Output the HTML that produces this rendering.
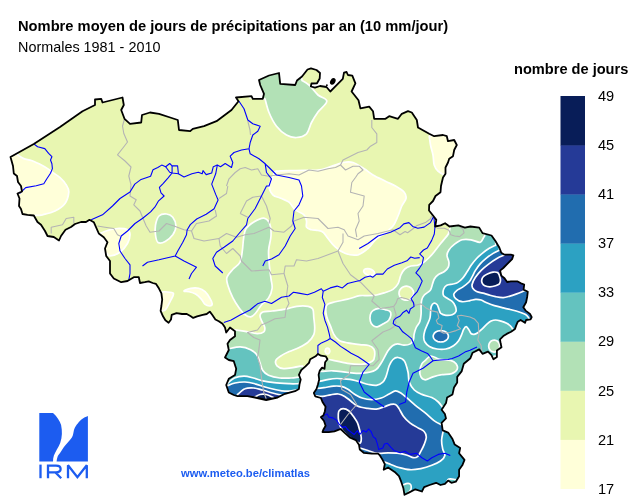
<!DOCTYPE html>
<html><head><meta charset="utf-8"><title>Climatlas</title>
<style>
html,body{margin:0;padding:0;background:#fff;}
body{width:636px;height:504px;position:relative;overflow:hidden;font-family:"Liberation Sans",sans-serif;color:#000;}
.t{position:absolute;white-space:nowrap;line-height:1;will-change:transform;}
.lab{position:absolute;will-change:transform;left:597.5px;font-size:14.6px;line-height:1;white-space:nowrap;}
</style></head><body>
<svg width="636" height="504" viewBox="0 0 636 504" style="position:absolute;left:0;top:0">
<defs><clipPath id="be"><path d="M10.5,157.0 L33.8,144.0 L60.0,127.0 L82.5,111.2 L95.0,105.0 L95.0,99.5 L101.2,98.8 L102.5,102.5 L122.5,97.5 L123.8,105.0 L121.2,110.0 L124.5,118.8 L130.0,123.8 L141.2,122.5 L142.0,115.0 L150.0,112.5 L159.0,113.8 L170.2,117.5 L177.8,120.0 L179.0,130.0 L190.2,131.2 L192.8,128.8 L204.0,126.2 L216.5,121.2 L231.5,110.0 L238.5,101.2 L236.0,97.5 L251.5,96.2 L252.8,98.8 L262.8,98.8 L264.0,93.8 L260.2,85.0 L259.0,80.0 L269.0,75.5 L279.0,73.0 L280.2,83.8 L295.2,85.0 L297.0,80.5 L302.0,76.5 L307.5,69.5 L311.0,68.3 L316.5,70.0 L320.0,73.0 L319.7,78.5 L317.0,83.3 L311.5,83.5 L310.8,86.5 L315.0,87.7 L320.0,86.0 L326.5,87.0 L330.3,91.5 L333.4,88.3 L342.8,78.9 L344.0,72.6 L346.6,72.0 L347.9,75.0 L352.3,75.7 L355.4,83.3 L351.6,91.5 L358.5,100.3 L360.4,108.4 L369.2,106.6 L373.0,111.2 L374.2,118.8 L385.5,118.8 L389.2,116.2 L398.0,118.8 L401.8,113.8 L408.0,111.2 L411.8,112.5 L416.8,120.0 L418.0,127.5 L429.2,133.8 L434.2,136.2 L443.0,135.0 L446.8,136.2 L448.0,141.2 L454.2,140.0 L456.8,145.0 L454.2,150.0 L453.0,156.2 L449.2,158.8 L448.0,162.5 L445.5,167.5 L445.5,173.8 L443.0,177.5 L441.8,182.5 L441.0,186.0 L440.5,192.2 L435.5,196.0 L433.0,201.0 L429.2,204.8 L429.0,210.5 L433.0,215.5 L436.3,219.9 L435.2,226.5 L440.7,225.4 L445.1,223.2 L449.5,226.5 L458.3,225.4 L464.9,227.6 L470.4,226.5 L479.2,227.6 L482.5,233.1 L491.5,235.5 L495.6,241.3 L499.4,247.7 L501.3,252.8 L504.5,254.7 L510.9,254.7 L513.4,255.3 L512.1,259.1 L509.6,261.7 L507.1,264.2 L503.3,268.0 L500.1,270.6 L501.3,275.6 L504.5,278.2 L507.1,282.0 L510.9,281.3 L517.2,281.3 L521.0,283.3 L524.2,284.5 L523.6,289.6 L527.8,291.7 L527.2,296.7 L526.1,302.2 L523.3,307.2 L525.6,310.6 L530.0,313.9 L531.7,317.2 L530.6,319.4 L526.1,320.0 L525.0,322.8 L520.6,320.0 L517.8,321.7 L516.1,325.6 L515.0,328.9 L511.1,331.7 L506.7,333.9 L503.3,336.1 L500.0,339.4 L500.6,343.3 L501.5,347.2 L496.9,350.5 L496.9,357.1 L493.5,359.3 L491.3,354.9 L488.0,351.6 L482.5,353.8 L479.2,349.4 L472.6,352.7 L470.4,358.2 L463.8,363.7 L461.6,371.4 L457.2,376.9 L457.2,382.4 L454.0,387.5 L452.5,394.4 L447.1,397.6 L446.0,403.1 L441.6,409.7 L444.9,414.0 L446.0,418.4 L441.6,422.8 L442.7,430.4 L448.1,432.6 L452.5,439.1 L454.7,444.6 L460.2,447.9 L459.1,453.3 L464.5,459.9 L462.3,465.3 L459.1,469.7 L459.1,476.2 L455.8,481.7 L451.4,482.8 L448.1,480.6 L444.9,483.9 L440.5,485.0 L436.1,482.8 L429.6,485.0 L424.1,487.2 L421.9,491.5 L415.4,489.3 L408.8,492.6 L404.5,494.8 L403.4,488.3 L401.2,481.7 L399.0,476.2 L394.7,471.9 L388.1,467.5 L383.7,469.7 L384.8,464.2 L382.6,459.9 L379.6,455.0 L378.0,453.6 L371.7,453.6 L363.7,452.8 L359.8,449.6 L359.0,444.8 L355.8,440.1 L350.2,437.7 L344.7,432.9 L340.7,429.0 L338.3,429.8 L334.4,431.3 L328.8,432.1 L322.5,432.1 L323.3,429.8 L325.6,425.8 L324.0,421.0 L320.9,417.1 L323.3,415.5 L324.8,411.5 L325.6,406.7 L322.5,402.0 L320.9,398.0 L315.3,396.4 L313.8,393.0 L316.5,389.0 L318.0,384.3 L319.2,379.5 L318.6,374.8 L319.8,370.6 L322.1,367.6 L324.5,368.8 L325.1,362.3 L327.5,359.3 L325.7,356.3 L321.0,355.7 L318.0,353.9 L315.6,356.3 L310.2,359.3 L309.0,362.9 L305.5,366.4 L301.3,370.0 L298.9,374.8 L300.7,379.5 L299.5,384.3 L298.9,389.0 L295.0,391.2 L285.0,393.8 L277.5,397.5 L266.2,400.0 L255.0,397.5 L247.5,396.2 L237.5,396.2 L233.8,395.0 L228.8,392.5 L226.2,385.0 L228.8,378.8 L235.0,375.0 L236.2,368.8 L233.8,361.2 L228.8,360.0 L225.0,357.5 L228.8,350.0 L227.5,343.8 L230.0,340.0 L235.0,336.2 L235.0,331.2 L230.0,327.5 L226.2,332.5 L225.0,327.5 L222.5,323.8 L218.8,321.2 L215.4,319.5 L212.2,314.8 L209.8,311.6 L206.7,314.0 L202.7,314.8 L197.1,316.3 L193.2,317.9 L190.8,316.3 L186.8,314.0 L182.1,314.0 L176.5,313.2 L171.7,314.8 L171.0,319.5 L168.6,322.7 L165.4,320.3 L163.0,316.3 L160.6,310.8 L161.4,306.0 L162.2,299.7 L161.4,293.3 L159.0,288.6 L155.9,283.8 L152.7,283.0 L148.7,281.4 L144.8,282.2 L140.0,283.0 L138.8,277.2 L133.8,277.2 L127.5,281.0 L121.2,282.2 L113.8,278.5 L110.0,273.5 L110.0,261.0 L106.2,256.0 L105.0,248.5 L107.5,242.2 L103.8,237.2 L98.8,233.5 L93.8,222.2 L89.5,219.8 L86.0,222.0 L81.0,222.0 L75.0,224.0 L71.0,227.0 L65.5,229.8 L61.0,236.0 L59.0,240.5 L53.8,237.0 L47.5,236.0 L45.0,231.0 L41.0,224.8 L37.5,222.0 L33.8,215.5 L27.5,214.8 L22.5,214.0 L21.0,209.0 L19.0,206.0 L19.5,198.5 L17.5,193.5 L22.0,191.5 L21.0,186.0 L18.0,182.0 L17.0,176.0 L13.8,173.5 L13.0,166.0Z"/></clipPath></defs>
<g clip-path="url(#be)">
<rect x="0" y="0" width="636" height="504" fill="#e8f6b1"/>
<path d="M17.6,154.8 C18.6,155.4 21.5,157.7 23.8,158.6 C26.1,159.5 28.7,159.6 31.4,160.5 C34.1,161.4 37.3,163.0 40.0,164.3 C42.7,165.7 45.4,167.2 47.6,168.6 C49.8,170.0 51.2,171.4 53.3,172.9 C55.4,174.4 57.8,175.6 60.0,177.6 C62.2,179.6 64.8,182.3 66.2,184.8 C67.7,187.2 69.0,189.1 68.8,192.2 C68.5,195.4 67.3,200.4 65.0,203.5 C62.7,206.6 58.8,209.1 55.0,211.0 C51.2,212.9 45.8,214.0 42.5,214.8 C39.2,215.5 36.2,215.4 35.0,215.5 L20.0,230.0 L0.0,210.0 L0.0,150.0Z" fill="#ffffd9" stroke="#fff" stroke-width="1.7" stroke-linejoin="round"/>
<path d="M100.0,233.5 C101.2,233.0 104.6,231.3 107.5,230.5 C110.4,229.7 114.2,228.6 117.5,228.5 C120.8,228.4 125.4,228.7 127.5,229.8 C129.6,230.8 130.0,232.5 130.0,234.8 C130.0,237.0 129.2,240.6 127.5,243.5 C125.8,246.4 122.9,250.2 120.0,252.2 C117.1,254.3 112.2,255.8 110.0,256.0 C107.8,256.2 107.5,253.9 107.0,253.5 L98.0,250.0 L94.0,238.0Z" fill="#ffffd9" stroke="#fff" stroke-width="1.7" stroke-linejoin="round"/>
<path d="M276.5,171.2 C280.2,170.5 289.1,170.7 296.0,170.5 C302.9,170.3 312.7,170.5 318.0,170.0 C323.3,169.5 323.8,168.8 328.0,167.5 C332.2,166.2 338.8,163.3 343.0,162.5 C347.2,161.7 349.5,161.5 353.0,162.5 C356.5,163.5 360.9,166.7 364.2,168.8 C367.6,170.8 369.5,172.9 373.0,175.0 C376.5,177.1 381.8,179.4 385.5,181.2 C389.2,183.1 392.4,184.2 395.5,186.0 C398.6,187.8 402.5,190.2 404.2,192.2 C406.0,194.3 406.4,196.2 406.0,198.5 C405.6,200.8 403.1,203.1 401.8,206.0 C400.4,208.9 399.5,212.7 398.0,216.0 C396.5,219.3 395.3,223.1 393.0,226.0 C390.7,228.9 387.2,231.2 384.2,233.5 C381.3,235.8 378.2,237.2 375.5,239.8 C372.8,242.2 370.9,246.0 368.0,248.5 C365.1,251.0 361.8,253.9 358.0,254.8 C354.2,255.6 349.2,254.8 345.5,253.5 C341.8,252.2 338.4,249.8 335.5,247.2 C332.6,244.8 330.1,241.0 328.0,238.5 C325.9,236.0 324.7,233.6 323.0,232.2 C321.3,230.9 319.9,230.9 318.0,230.5 C316.1,230.1 313.4,230.3 311.5,229.8 C309.6,229.2 307.3,228.7 306.5,227.2 C305.7,225.8 306.9,223.1 306.5,221.0 C306.1,218.9 305.9,216.6 304.0,214.8 C302.1,212.9 297.8,211.8 295.2,209.8 C292.8,207.7 291.3,204.1 289.0,202.2 C286.7,200.4 284.2,199.8 281.5,198.5 C278.8,197.2 274.8,196.8 272.8,194.8 C270.7,192.7 269.2,188.5 269.0,186.0 C268.8,183.5 270.8,181.8 271.5,180.0 C272.2,178.2 272.7,176.5 273.5,175.0 C274.3,173.5 272.8,172.0 276.5,171.2Z" fill="#ffffd9" stroke="#fff" stroke-width="1.7" stroke-linejoin="round"/>
<path d="M429.2,136.2 C429.5,137.7 429.9,141.9 430.5,145.0 C431.1,148.1 432.4,151.7 433.0,155.0 C433.6,158.3 433.4,162.3 434.2,165.0 C435.1,167.7 436.3,169.6 438.0,171.2 C439.7,172.9 443.2,174.4 444.2,175.0 L465.0,175.0 L465.0,125.0Z" fill="#ffffd9" stroke="#fff" stroke-width="1.7" stroke-linejoin="round"/>
<path d="M184.0,291.0 C184.3,290.4 188.4,288.8 190.8,288.3 C193.2,287.9 196.3,287.7 198.7,288.3 C201.1,288.9 203.2,290.1 205.1,291.7 C206.9,293.3 208.6,296.1 209.8,298.1 C211.0,300.1 212.2,302.4 212.2,303.7 C212.2,305.0 211.0,305.9 209.8,306.0 C208.6,306.1 206.6,305.6 205.1,304.4 C203.6,303.2 202.7,300.6 201.1,298.9 C199.5,297.2 197.6,295.3 195.6,294.1 C193.6,292.9 191.1,292.2 189.2,291.7 C187.3,291.2 183.7,291.6 184.0,291.0Z" fill="#ffffd9" stroke="#fff" stroke-width="1.7" stroke-linejoin="round"/>
<path d="M160.0,292.5 C162.4,291.3 169.5,292.1 171.7,292.5 C173.9,292.9 173.6,293.4 173.3,294.9 C173.1,296.4 171.2,299.2 170.2,301.3 C169.1,303.4 168.1,306.0 167.0,307.6 C165.9,309.2 165.3,310.4 163.8,310.8 C162.3,311.2 159.1,311.9 158.0,310.0 C156.9,308.1 156.7,302.6 157.0,299.7 C157.3,296.8 157.6,293.7 160.0,292.5Z" fill="#ffffd9" stroke="#fff" stroke-width="1.7" stroke-linejoin="round"/>
<path d="M374.3,273.4 C374.2,273.8 373.9,274.2 373.6,274.5 C373.2,274.8 372.7,275.0 372.2,275.2 C371.6,275.3 370.9,275.4 370.3,275.4 C369.6,275.4 368.8,275.3 368.2,275.1 C367.5,274.9 366.8,274.6 366.2,274.3 C365.6,274.0 365.1,273.6 364.7,273.2 C364.3,272.8 363.9,272.3 363.8,271.9 C363.6,271.4 363.6,271.0 363.7,270.6 C363.8,270.2 364.1,269.8 364.4,269.5 C364.8,269.2 365.3,269.0 365.8,268.8 C366.4,268.7 367.1,268.6 367.7,268.6 C368.4,268.6 369.2,268.7 369.8,268.9 C370.5,269.1 371.2,269.4 371.8,269.7 C372.4,270.0 372.9,270.4 373.3,270.8 C373.7,271.2 374.1,271.7 374.2,272.1 C374.4,272.6 374.4,273.0 374.3,273.4Z" fill="#ffffd9" stroke="#fff" stroke-width="1.7" stroke-linejoin="round"/>
<path d="M329.8,351.0 C329.8,351.4 329.7,351.8 329.6,352.1 C329.5,352.5 329.3,352.9 329.1,353.1 C328.9,353.4 328.7,353.6 328.4,353.8 C328.1,353.9 327.8,354.0 327.5,354.0 C327.2,354.0 326.9,353.9 326.6,353.8 C326.3,353.6 326.1,353.4 325.9,353.1 C325.7,352.9 325.5,352.5 325.4,352.1 C325.3,351.8 325.2,351.4 325.2,351.0 C325.2,350.6 325.3,350.2 325.4,349.9 C325.5,349.5 325.7,349.1 325.9,348.9 C326.1,348.6 326.3,348.4 326.6,348.2 C326.9,348.1 327.2,348.0 327.5,348.0 C327.8,348.0 328.1,348.1 328.4,348.2 C328.7,348.4 328.9,348.6 329.1,348.9 C329.3,349.1 329.5,349.5 329.6,349.9 C329.7,350.2 329.8,350.6 329.8,351.0Z" fill="#ffffd9" stroke="#fff" stroke-width="1.7" stroke-linejoin="round"/>
<path d="M265.0,98.8 C265.7,101.0 267.1,107.9 269.0,112.5 C270.9,117.1 273.6,122.5 276.5,126.2 C279.4,130.0 283.2,133.1 286.5,135.0 C289.8,136.9 293.2,137.7 296.5,137.5 C299.8,137.3 304.0,136.2 306.5,133.8 C309.0,131.2 309.6,126.1 311.5,122.5 C313.4,118.9 315.5,115.5 318.0,112.0 C320.5,108.5 326.8,104.1 326.8,101.2 C326.8,98.4 321.0,97.7 318.0,95.0 C315.0,92.3 311.7,87.4 309.0,85.0 C306.3,82.6 303.2,81.2 302.0,80.5 L300.0,60.0 L250.0,60.0 L250.0,98.0Z" fill="#b2e1b6" stroke="#fff" stroke-width="1.7" stroke-linejoin="round"/>
<path d="M159.0,216.0 C160.8,214.2 164.2,213.8 166.5,214.0 C168.8,214.2 171.2,215.2 172.8,217.2 C174.3,219.2 176.0,223.1 176.0,226.0 C176.0,228.9 174.5,232.2 172.8,234.8 C171.0,237.3 167.7,240.2 165.2,241.5 C162.8,242.8 159.6,243.6 158.0,242.5 C156.4,241.4 155.9,237.9 155.5,235.0 C155.1,232.1 154.9,228.2 155.5,225.0 C156.1,221.8 157.2,217.8 159.0,216.0Z" fill="#b2e1b6" stroke="#fff" stroke-width="1.7" stroke-linejoin="round"/>
<path d="M263.8,218.1 C266.4,218.5 268.6,221.0 269.8,224.0 C271.0,227.0 271.2,231.6 271.0,236.0 C270.8,240.4 268.9,245.4 268.6,250.2 C268.3,254.9 268.9,259.7 269.3,264.5 C269.7,269.3 270.5,274.8 271.0,278.8 C271.5,282.8 272.5,285.1 272.1,288.3 C271.7,291.5 270.4,295.1 268.6,297.9 C266.8,300.7 263.6,302.4 261.4,305.0 C259.2,307.6 257.3,311.3 255.5,313.3 C253.7,315.3 252.5,316.7 250.7,316.9 C248.9,317.1 246.8,316.1 244.8,314.5 C242.8,312.9 240.8,310.2 238.8,307.4 C236.8,304.6 234.7,301.5 232.9,297.9 C231.1,294.3 229.1,289.4 228.1,286.0 C227.1,282.6 226.1,280.4 226.9,277.6 C227.7,274.8 230.7,271.9 232.9,269.3 C235.1,266.7 238.4,265.3 240.0,262.1 C241.6,258.9 241.8,254.2 242.4,250.2 C243.0,246.2 243.0,241.9 243.6,238.3 C244.2,234.7 244.2,231.6 246.0,228.8 C247.8,226.0 251.3,223.5 254.3,221.7 C257.3,219.9 261.2,217.7 263.8,218.1Z" fill="#b2e1b6" stroke="#fff" stroke-width="1.7" stroke-linejoin="round"/>
<path d="M450.2,227.0 C449.9,228.2 449.5,231.8 448.3,234.0 C447.1,236.2 444.9,238.3 443.2,240.4 C441.5,242.5 439.6,244.8 438.1,246.7 C436.6,248.6 435.8,250.0 434.3,251.8 C432.8,253.6 430.9,255.8 429.2,257.5 C427.5,259.2 426.0,260.7 424.1,262.0 C422.2,263.3 420.0,264.5 417.8,265.2 C415.6,265.9 413.0,265.4 410.8,266.0 C408.6,266.6 406.5,267.5 404.8,269.0 C403.1,270.5 402.0,272.6 400.9,275.0 C399.8,277.4 399.4,281.3 398.1,283.7 C396.8,286.1 395.1,287.9 393.0,289.4 C390.9,290.9 388.1,291.6 385.4,292.5 C382.6,293.4 379.5,294.5 376.5,295.0 C373.5,295.5 370.4,295.6 367.6,295.7 C364.8,295.8 363.1,295.1 359.8,295.7 C356.5,296.3 351.7,298.2 347.6,299.2 C343.5,300.2 338.8,300.9 335.4,301.8 C332.0,302.7 329.1,303.1 327.5,304.4 C325.9,305.7 325.9,307.6 325.8,309.7 C325.7,311.8 326.0,314.1 326.7,316.7 C327.4,319.3 329.0,322.5 330.2,325.4 C331.4,328.3 332.2,331.6 333.7,334.1 C335.1,336.6 336.6,338.7 338.9,340.2 C341.2,341.7 344.1,342.2 347.6,342.9 C351.1,343.6 356.3,344.2 359.8,344.6 C363.3,345.0 366.3,344.8 368.6,345.5 C370.9,346.2 372.8,347.4 373.8,349.0 C374.8,350.6 374.9,353.1 374.7,355.1 C374.5,357.1 374.6,359.5 372.5,361.0 C370.4,362.5 366.2,363.9 362.0,364.3 C357.8,364.7 352.3,364.0 347.5,363.3 C342.7,362.6 336.8,361.1 333.3,360.3 C329.8,359.6 327.6,359.1 326.5,358.8 L322.0,364.0 L310.0,372.0 L308.0,400.0 L308.0,520.0 L560.0,520.0 L560.0,215.0 L450.2,215.0Z" fill="#b2e1b6" stroke="#fff" stroke-width="1.7" stroke-linejoin="round"/>
<path d="M234.5,329.9 C236.7,330.2 243.9,331.2 247.7,331.8 C251.5,332.4 254.5,333.7 257.2,333.7 C259.9,333.7 262.6,332.9 263.8,331.8 C265.1,330.7 265.0,328.8 264.7,327.1 C264.4,325.4 262.7,323.3 261.9,321.4 C261.1,319.5 259.9,317.4 260.0,315.8 C260.1,314.2 260.8,312.8 262.8,312.0 C264.9,311.2 268.5,311.5 272.3,311.0 C276.1,310.5 281.4,310.0 285.5,309.2 C289.6,308.4 293.0,306.8 296.8,306.3 C300.6,305.8 305.4,305.8 308.1,306.3 C310.8,306.8 311.9,307.3 312.8,309.2 C313.8,311.1 313.5,314.6 313.8,317.6 C314.1,320.6 314.7,324.3 314.7,327.1 C314.7,329.9 314.9,332.1 313.8,334.6 C312.7,337.1 310.6,340.0 308.1,342.2 C305.6,344.4 301.9,346.2 298.7,347.8 C295.5,349.4 292.0,350.3 289.2,351.6 C286.4,352.9 283.9,354.0 281.7,355.4 C279.5,356.8 276.8,358.4 276.0,360.1 C275.2,361.8 275.7,364.4 277.0,365.8 C278.3,367.2 280.9,368.3 283.6,368.6 C286.3,368.9 289.9,368.1 293.0,367.6 C296.1,367.1 300.9,366.1 302.5,365.8 L306.0,372.0 L306.0,410.0 L215.0,410.0 L215.0,335.0Z" fill="#b2e1b6" stroke="#fff" stroke-width="1.7" stroke-linejoin="round"/>
<path d="M413.6,293.2 C413.6,294.1 413.4,295.1 413.0,295.9 C412.7,296.7 412.1,297.5 411.5,298.1 C410.8,298.8 410.0,299.3 409.1,299.7 C408.2,300.0 407.2,300.2 406.3,300.2 C405.4,300.2 404.4,300.0 403.5,299.7 C402.6,299.3 401.8,298.8 401.1,298.1 C400.5,297.5 399.9,296.7 399.6,295.9 C399.2,295.1 399.0,294.1 399.0,293.2 C399.0,292.3 399.2,291.3 399.6,290.5 C399.9,289.7 400.5,288.9 401.1,288.3 C401.8,287.6 402.6,287.1 403.5,286.7 C404.4,286.4 405.4,286.2 406.3,286.2 C407.2,286.2 408.2,286.4 409.1,286.7 C410.0,287.1 410.8,287.6 411.5,288.3 C412.1,288.9 412.7,289.7 413.0,290.5 C413.4,291.3 413.6,292.3 413.6,293.2Z" fill="#e8f6b1" stroke="#fff" stroke-width="1.7" stroke-linejoin="round"/>
<path d="M370.3,314.9 C370.7,313.2 371.4,311.7 372.9,310.6 C374.3,309.5 376.9,308.5 379.0,308.3 C381.1,308.1 383.4,309.2 385.2,309.7 C387.0,310.2 388.9,310.5 389.9,311.4 C390.8,312.3 391.1,313.4 390.9,314.9 C390.7,316.4 389.9,318.7 388.7,320.2 C387.4,321.7 385.3,322.6 383.4,323.7 C381.5,324.8 379.1,326.5 377.3,326.8 C375.6,327.1 374.1,326.4 372.9,325.4 C371.7,324.4 370.7,322.8 370.3,321.0 C369.9,319.2 369.9,316.6 370.3,314.9Z" fill="#64c3bf" stroke="#fff" stroke-width="1.7" stroke-linejoin="round"/>
<path d="M484.7,236.0 C484.5,236.2 484.4,236.4 483.6,237.5 C482.8,238.6 482.1,241.9 480.0,242.3 C477.9,242.7 474.1,240.2 471.1,239.8 C468.1,239.4 464.9,239.1 462.2,239.8 C459.4,240.5 456.8,242.5 454.6,244.2 C452.4,245.9 450.2,248.0 448.9,249.9 C447.6,251.8 447.0,253.6 447.0,255.6 C447.0,257.6 448.7,260.1 448.9,262.0 C449.1,263.9 449.1,265.5 448.3,267.1 C447.6,268.7 446.1,270.2 444.4,271.5 C442.7,272.8 439.8,273.4 438.1,274.7 C436.4,275.9 435.2,277.4 434.3,279.0 C433.4,280.6 433.2,282.1 432.5,284.0 C431.8,285.9 431.7,288.5 430.3,290.3 C428.9,292.1 425.7,293.4 424.3,295.0 C422.9,296.6 422.2,298.1 421.7,300.0 C421.2,301.9 421.2,304.1 421.1,306.4 C421.0,308.7 421.3,311.4 421.1,314.0 C420.9,316.6 420.7,319.4 419.8,321.7 C418.9,324.0 416.9,325.9 416.0,328.0 C415.1,330.1 414.5,332.5 414.1,334.4 C413.7,336.3 414.1,337.8 413.5,339.4 C412.9,341.0 411.9,342.9 410.3,343.9 C408.7,344.9 406.1,345.2 404.0,345.2 C401.9,345.2 399.5,343.8 397.6,343.9 C395.7,344.0 394.1,344.7 392.5,345.8 C390.9,346.9 389.8,348.1 388.0,350.8 C386.2,353.4 383.8,358.8 381.8,362.0 C379.7,365.2 378.6,368.1 375.5,370.0 C372.4,371.9 367.6,372.8 363.0,373.2 C358.4,373.7 353.0,372.9 348.0,372.5 C343.0,372.1 337.6,370.9 333.0,370.8 C328.4,370.6 322.6,371.4 320.5,371.5 L312.0,375.0 L308.0,400.0 L308.0,520.0 L560.0,520.0 L560.0,215.0 L484.0,215.0Z" fill="#64c3bf" stroke="#fff" stroke-width="1.7" stroke-linejoin="round"/>
<path d="M228.9,348.8 C230.8,348.5 236.6,346.8 240.2,346.9 C243.8,347.0 247.8,348.3 250.6,349.7 C253.4,351.1 255.6,353.2 257.2,355.4 C258.8,357.6 259.1,360.4 260.0,362.9 C260.9,365.4 261.4,368.4 262.8,370.5 C264.2,372.6 265.7,373.9 268.5,375.2 C271.3,376.4 276.0,377.5 279.8,378.0 C283.6,378.5 288.0,378.1 291.1,378.0 C294.2,377.9 297.4,377.2 298.7,377.1 L306.0,377.0 L306.0,410.0 L215.0,410.0 L215.0,350.0Z" fill="#64c3bf" stroke="#fff" stroke-width="1.7" stroke-linejoin="round"/>
<path d="M425.3,360.4 C426.8,359.1 428.4,356.2 430.8,356.0 C433.2,355.8 436.3,358.6 439.6,359.3 C442.9,360.0 447.9,359.7 450.6,360.4 C453.4,361.1 455.0,362.2 456.1,363.7 C457.2,365.2 457.9,367.5 457.2,369.2 C456.5,370.9 454.3,372.7 451.7,373.6 C449.1,374.5 444.9,374.1 441.8,374.7 C438.7,375.2 435.8,376.0 433.0,376.9 C430.2,377.8 427.3,379.8 425.3,379.8 C423.3,379.8 421.8,378.5 420.9,376.9 C420.0,375.3 419.6,372.5 419.8,370.3 C420.0,368.1 421.1,365.4 422.0,363.7 C422.9,362.0 423.8,361.7 425.3,360.4Z" fill="#b2e1b6" stroke="#fff" stroke-width="1.7" stroke-linejoin="round"/>
<path d="M499.7,346.1 C499.7,346.9 499.5,347.7 499.3,348.4 C499.0,349.1 498.6,349.8 498.1,350.3 C497.6,350.9 497.0,351.4 496.3,351.6 C495.7,351.9 494.9,352.1 494.2,352.1 C493.5,352.1 492.7,351.9 492.1,351.6 C491.4,351.4 490.8,350.9 490.3,350.3 C489.8,349.8 489.4,349.1 489.1,348.4 C488.9,347.7 488.7,346.9 488.7,346.1 C488.7,345.3 488.9,344.5 489.1,343.8 C489.4,343.1 489.8,342.4 490.3,341.9 C490.8,341.3 491.4,340.8 492.1,340.6 C492.7,340.3 493.5,340.1 494.2,340.1 C494.9,340.1 495.7,340.3 496.3,340.6 C497.0,340.8 497.6,341.3 498.1,341.9 C498.6,342.4 499.0,343.1 499.3,343.8 C499.5,344.5 499.7,345.3 499.7,346.1Z" fill="#b2e1b6" stroke="#fff" stroke-width="1.7" stroke-linejoin="round"/>
<path d="M496.9,358.2 C496.9,358.5 496.8,358.8 496.7,359.0 C496.6,359.3 496.5,359.6 496.3,359.8 C496.1,360.0 495.8,360.1 495.5,360.2 C495.3,360.3 495.0,360.4 494.7,360.4 C494.4,360.4 494.1,360.3 493.9,360.2 C493.6,360.1 493.3,360.0 493.1,359.8 C492.9,359.6 492.8,359.3 492.7,359.0 C492.6,358.8 492.5,358.5 492.5,358.2 C492.5,357.9 492.6,357.6 492.7,357.4 C492.8,357.1 492.9,356.8 493.1,356.6 C493.3,356.4 493.6,356.3 493.9,356.2 C494.1,356.1 494.4,356.0 494.7,356.0 C495.0,356.0 495.3,356.1 495.5,356.2 C495.8,356.3 496.1,356.4 496.3,356.6 C496.5,356.8 496.6,357.1 496.7,357.4 C496.8,357.6 496.9,357.9 496.9,358.2Z" fill="#b2e1b6" stroke="#fff" stroke-width="1.7" stroke-linejoin="round"/>
<path d="M495.6,245.2 C494.6,245.7 491.4,247.0 489.3,248.3 C487.2,249.6 485.0,251.1 482.9,252.8 C480.8,254.5 478.5,256.5 476.6,258.5 C474.7,260.5 473.1,262.6 471.5,264.8 C469.9,267.0 468.6,269.6 467.1,271.8 C465.6,274.0 464.2,276.4 462.6,278.2 C461.0,280.0 459.1,281.6 457.5,282.6 C455.9,283.6 454.8,283.6 453.0,284.0 C451.2,284.4 448.4,284.4 446.8,285.2 C445.2,286.0 444.3,287.4 443.7,289.0 C443.1,290.6 442.9,293.6 443.3,295.0 C443.7,296.4 444.4,296.4 445.9,297.5 C447.4,298.6 450.6,299.8 452.2,301.3 C453.8,302.8 454.8,304.7 455.4,306.4 C456.0,308.1 456.5,310.1 456.0,311.5 C455.5,312.9 453.9,314.1 452.2,314.7 C450.5,315.3 447.8,315.5 445.9,315.3 C444.0,315.1 442.0,314.4 440.8,313.4 C439.6,312.3 439.5,310.5 438.9,309.0 C438.3,307.5 437.9,305.4 437.0,304.5 C436.1,303.6 434.8,303.0 433.8,303.3 C432.9,303.6 431.8,305.0 431.3,306.4 C430.8,307.8 430.8,309.6 430.6,311.5 C430.4,313.4 430.5,315.8 430.0,317.9 C429.5,320.0 428.4,322.1 427.5,324.2 C426.6,326.3 425.5,328.5 424.9,330.6 C424.3,332.7 423.7,335.0 423.7,336.9 C423.7,338.8 423.9,340.4 424.9,342.0 C425.8,343.6 427.4,345.2 429.4,346.4 C431.4,347.6 434.2,348.6 437.0,349.0 C439.8,349.4 443.1,349.5 445.9,349.0 C448.6,348.5 451.4,347.2 453.5,345.8 C455.6,344.4 457.2,342.6 458.6,340.7 C460.0,338.8 460.9,336.3 461.7,334.4 C462.5,332.5 462.9,330.6 463.7,329.3 C464.4,328.0 465.3,326.6 466.2,326.7 C467.1,326.8 468.2,328.9 469.0,330.0 C469.8,331.1 470.2,332.8 471.0,333.5 C471.8,334.2 472.9,334.5 474.0,334.4 C475.1,334.3 476.4,333.7 477.8,332.8 C479.2,331.9 480.7,330.3 482.2,328.9 C483.7,327.5 485.2,325.7 486.7,324.4 C488.2,323.1 489.6,321.8 491.1,321.1 C492.6,320.4 493.9,320.0 495.6,320.0 C497.3,320.0 499.2,320.6 501.1,321.1 C503.0,321.7 505.1,322.5 506.7,323.3 C508.3,324.1 509.5,325.0 510.6,326.1 C511.7,327.2 513.0,329.4 513.5,330.0 L540.0,332.0 L540.0,240.0 L496.0,235.0Z" fill="#2ca1c2" stroke="#fff" stroke-width="1.7" stroke-linejoin="round"/>
<path d="M319.6,381.3 C321.1,381.0 326.0,379.9 328.8,379.4 C331.6,378.9 334.1,378.6 336.7,378.5 C339.3,378.4 342.0,378.8 344.7,379.0 C347.4,379.2 350.0,379.3 352.6,379.8 C355.2,380.3 358.0,381.3 360.6,382.1 C363.2,382.9 365.9,384.0 368.5,384.5 C371.1,385.0 374.0,385.7 376.4,385.3 C378.8,384.9 381.2,383.6 382.8,382.1 C384.4,380.7 384.9,379.3 386.0,376.6 C387.1,373.9 388.1,368.6 389.2,365.8 C390.4,362.9 391.5,360.9 393.0,359.5 C394.5,358.1 396.1,357.3 398.0,357.5 C399.9,357.7 402.6,358.3 404.2,360.8 C405.9,363.2 407.2,368.5 408.0,372.0 C408.8,375.5 408.2,379.0 409.2,382.0 C410.3,385.0 412.2,387.9 414.3,390.0 C416.4,392.1 419.0,393.1 421.9,394.4 C424.8,395.7 429.1,396.3 431.8,397.6 C434.5,398.9 436.5,400.4 438.3,402.0 C440.1,403.6 442.0,406.6 442.7,407.5 L470.0,407.0 L470.0,520.0 L300.0,520.0 L300.0,400.0 L310.0,383.0Z" fill="#2ca1c2" stroke="#fff" stroke-width="1.7" stroke-linejoin="round"/>
<path d="M226.0,384.6 C227.4,383.5 231.5,379.4 234.5,378.0 C237.5,376.6 240.8,376.1 244.0,376.1 C247.2,376.1 250.3,377.2 253.4,378.0 C256.5,378.8 259.3,380.0 262.8,380.8 C266.3,381.6 269.8,382.2 274.2,382.7 C278.6,383.2 285.1,383.5 289.2,383.7 C293.3,383.9 297.1,383.7 298.7,383.7 L306.0,384.0 L306.0,410.0 L215.0,410.0 L215.0,385.0Z" fill="#2ca1c2" stroke="#fff" stroke-width="1.7" stroke-linejoin="round"/>
<path d="M404.0,484.5 C406.0,483.5 408.8,483.1 410.0,483.9 C411.2,484.6 411.3,487.5 411.0,489.0 C410.7,490.5 409.8,491.5 408.0,493.0 C406.2,494.5 401.7,498.5 400.0,498.0 C398.3,497.5 397.3,492.2 398.0,490.0 C398.7,487.8 402.0,485.5 404.0,484.5Z" fill="#64c3bf" stroke="#fff" stroke-width="1.7" stroke-linejoin="round"/>
<path d="M448.0,479.5 C449.3,478.1 453.1,479.2 455.0,479.5 C456.9,479.8 458.7,479.6 459.5,481.0 C460.3,482.4 462.1,486.8 460.0,488.0 C457.9,489.2 449.0,489.4 447.0,488.0 C445.0,486.6 446.7,480.9 448.0,479.5Z" fill="#64c3bf" stroke="#fff" stroke-width="1.7" stroke-linejoin="round"/>
<path d="M499.4,250.2 C498.3,250.7 495.2,252.1 493.1,253.4 C491.0,254.7 488.8,256.2 486.7,257.9 C484.6,259.6 482.3,261.5 480.4,263.6 C478.5,265.7 476.7,268.4 475.3,270.6 C473.9,272.8 473.2,275.0 472.1,276.9 C471.1,278.8 470.6,280.3 469.0,282.0 C467.4,283.7 464.6,285.7 462.6,287.1 C460.6,288.5 458.5,289.1 457.0,290.3 C455.5,291.5 454.0,292.7 453.8,294.1 C453.6,295.5 454.3,297.3 455.7,298.6 C457.1,299.9 459.7,301.4 462.1,301.7 C464.5,302.0 467.8,301.0 470.0,300.6 C472.2,300.2 473.8,299.5 475.6,299.4 C477.5,299.3 479.2,299.4 481.1,300.0 C483.0,300.6 484.5,301.9 486.7,302.8 C488.9,303.7 491.6,304.8 494.4,305.6 C497.2,306.4 500.3,307.1 503.3,307.8 C506.3,308.5 509.4,309.3 512.2,310.0 C515.0,310.7 517.8,311.5 520.0,312.2 C522.2,312.9 524.2,313.6 525.6,314.4 C527.0,315.2 527.7,316.3 528.3,317.2 C528.9,318.1 529.1,319.2 529.2,319.6 L540.0,322.0 L540.0,245.0 L500.0,240.0Z" fill="#216daf" stroke="#fff" stroke-width="1.7" stroke-linejoin="round"/>
<path d="M316.1,388.5 C317.4,388.4 321.1,388.1 324.0,387.7 C326.9,387.3 330.7,386.3 333.6,386.1 C336.5,385.9 339.1,385.9 341.5,386.4 C343.9,386.9 345.8,388.0 347.9,389.3 C350.0,390.6 351.8,392.6 354.2,394.0 C356.6,395.4 359.2,397.1 362.1,398.0 C365.0,398.9 368.5,399.6 371.7,399.6 C374.9,399.6 378.3,398.9 381.2,398.0 C384.1,397.1 386.7,395.2 389.1,394.0 C391.5,392.8 393.5,391.0 395.5,390.9 C397.5,390.8 399.1,392.0 401.2,393.3 C403.2,394.6 405.4,396.7 407.8,398.7 C410.2,400.7 412.5,402.9 415.4,405.3 C418.3,407.7 422.1,410.3 425.2,412.9 C428.3,415.4 431.3,418.6 434.0,420.6 C436.7,422.6 440.3,424.2 441.6,424.9 L446.0,426.0 L446.0,430.0 L443.1,431.5 C442.9,432.9 441.7,437.3 441.6,440.2 C441.5,443.1 442.1,446.3 442.7,448.9 C443.2,451.4 445.3,453.5 444.9,455.5 C444.5,457.5 442.7,459.4 440.5,461.0 C438.3,462.6 435.1,464.0 431.8,465.3 C428.5,466.6 424.5,467.9 420.9,468.6 C417.2,469.3 413.5,469.9 409.9,469.7 C406.2,469.5 402.3,468.4 399.0,467.5 C395.7,466.6 392.7,465.1 390.3,464.2 C387.9,463.3 385.7,462.5 384.8,462.1 L375,470 L300,470 L300,392 L312,390Z" fill="#216daf" stroke="#fff" stroke-width="1.7" stroke-linejoin="round"/>
<path d="M226.2,386.2 C227.7,385.7 231.9,383.7 235.0,383.0 C238.1,382.3 241.7,381.9 245.0,382.0 C248.3,382.1 251.7,382.9 255.0,383.8 C258.3,384.6 261.7,386.0 265.0,387.0 C268.3,388.0 271.7,388.8 275.0,389.5 C278.3,390.2 281.5,391.2 285.0,391.2 C288.5,391.3 294.4,390.2 296.2,390.0 L306.0,390.0 L306.0,410.0 L215.0,410.0 L215.0,388.0Z" fill="#216daf" stroke="#fff" stroke-width="1.7" stroke-linejoin="round"/>
<path d="M448.4,336.3 C448.4,337.0 448.2,337.8 447.8,338.5 C447.5,339.2 446.9,339.8 446.2,340.3 C445.5,340.8 444.6,341.3 443.7,341.6 C442.8,341.8 441.8,342.0 440.8,342.0 C439.8,342.0 438.8,341.8 437.9,341.6 C437.0,341.3 436.1,340.8 435.4,340.3 C434.7,339.8 434.1,339.2 433.8,338.5 C433.4,337.8 433.2,337.0 433.2,336.3 C433.2,335.6 433.4,334.8 433.8,334.1 C434.1,333.4 434.7,332.8 435.4,332.3 C436.1,331.8 437.0,331.3 437.9,331.0 C438.8,330.8 439.8,330.6 440.8,330.6 C441.8,330.6 442.8,330.8 443.7,331.0 C444.6,331.3 445.5,331.8 446.2,332.3 C446.9,332.8 447.5,333.4 447.8,334.1 C448.2,334.8 448.4,335.6 448.4,336.3Z" fill="#216daf" stroke="#fff" stroke-width="1.7" stroke-linejoin="round"/>
<path d="M503.9,255.3 C502.7,255.8 499.3,257.1 496.9,258.5 C494.5,259.9 491.8,261.7 489.3,263.6 C486.8,265.5 484.0,267.6 481.7,269.9 C479.4,272.2 476.9,275.1 475.3,277.5 C473.7,279.9 472.5,282.7 472.1,284.5 C471.7,286.3 472.1,287.1 472.8,288.3 C473.6,289.5 474.7,290.6 476.6,291.5 C478.5,292.4 482.0,292.8 484.2,293.4 C486.4,294.0 488.1,294.8 490.0,295.3 C491.9,295.9 493.4,296.3 495.6,296.7 C497.8,297.1 500.9,297.7 503.3,297.6 C505.7,297.5 507.8,296.7 510.0,296.1 C512.2,295.5 514.7,294.6 516.7,293.9 C518.7,293.2 520.8,292.3 522.2,291.7 C523.6,291.1 524.5,290.5 525.0,290.3 L540.0,292.0 L540.0,250.0 L505.0,248.0Z" fill="#253a97" stroke="#fff" stroke-width="1.7" stroke-linejoin="round"/>
<path d="M314.5,395.6 C315.8,395.7 319.9,396.5 322.5,396.4 C325.1,396.3 327.8,395.2 330.4,394.8 C333.0,394.4 335.9,393.7 338.3,394.0 C340.7,394.3 342.6,395.2 344.7,396.4 C346.8,397.6 348.9,399.6 351.0,401.2 C353.1,402.8 354.8,404.8 357.4,406.0 C360.0,407.2 363.7,407.8 366.9,408.3 C370.1,408.8 373.5,409.4 376.4,409.1 C379.3,408.8 382.0,407.5 384.4,406.7 C386.8,405.9 388.8,404.8 390.7,404.4 C392.6,404.0 394.1,403.7 395.5,404.4 C396.9,405.1 397.7,406.6 399.0,408.6 C400.3,410.6 401.6,413.8 403.4,416.2 C405.2,418.6 407.3,420.8 409.9,422.8 C412.4,424.8 416.3,426.8 418.7,428.2 C421.1,429.6 422.8,430.1 424.1,431.5 C425.4,432.9 426.3,434.7 426.3,436.9 C426.3,439.1 425.0,442.2 424.1,444.6 C423.2,447.0 422.0,449.1 420.9,451.1 C419.8,453.1 418.9,455.5 417.6,456.6 C416.3,457.7 414.8,457.9 413.2,457.7 C411.6,457.5 410.2,456.2 407.8,455.5 C405.4,454.8 402.3,453.7 399.0,453.3 C395.7,452.9 391.7,452.9 388.1,452.9 C384.5,452.9 380.6,453.7 377.2,453.3 C373.8,452.9 370.9,451.4 368.0,450.5 C365.1,449.6 361.3,448.4 360.0,448.0 L355.0,455.0 L300.0,455.0 L300.0,398.0Z" fill="#253a97" stroke="#fff" stroke-width="1.7" stroke-linejoin="round"/>
<path d="M237.5,394.5 C238.8,393.5 242.3,389.8 245.0,388.8 C247.7,387.7 250.8,387.8 253.8,388.0 C256.7,388.2 259.4,389.2 262.5,390.0 C265.6,390.8 269.4,392.2 272.5,393.0 C275.6,393.8 279.8,394.7 281.2,395.0 L285.0,410.0 L235.0,410.0Z" fill="#253a97" stroke="#fff" stroke-width="1.7" stroke-linejoin="round"/>
<path d="M255.0,397.0 C255.8,396.6 258.1,394.9 260.0,394.5 C261.9,394.1 264.2,394.1 266.2,394.5 C268.3,394.9 271.0,396.3 272.5,397.0 C274.0,397.7 274.6,398.5 275.0,398.8 L275.0,410.0 L255.0,410.0Z" fill="#081d58" stroke="#fff" stroke-width="1.7" stroke-linejoin="round"/>
<path d="M481.7,280.1 C481.9,278.9 482.6,277.4 483.6,276.3 C484.7,275.2 486.4,274.4 488.0,273.7 C489.6,273.0 491.5,272.3 493.1,272.1 C494.7,271.9 496.4,271.9 497.5,272.5 C498.6,273.1 498.9,274.3 499.4,275.6 C499.9,276.9 500.5,278.7 500.5,280.1 C500.5,281.5 500.2,282.9 499.4,283.9 C498.6,284.8 497.2,285.3 495.6,285.8 C494.0,286.3 491.7,286.8 489.9,286.8 C488.1,286.8 486.1,286.4 484.8,285.8 C483.5,285.2 482.8,284.2 482.3,283.3 C481.8,282.4 481.5,281.3 481.7,280.1Z" fill="#081d58" stroke="#fff" stroke-width="1.7" stroke-linejoin="round"/>
<path d="M339.1,410.7 C339.9,409.7 341.5,408.7 343.1,408.7 C344.7,408.7 347.0,409.4 348.7,410.7 C350.4,412.0 351.9,414.3 353.4,416.3 C354.8,418.3 356.3,420.2 357.4,422.6 C358.5,425.0 359.1,428.0 359.8,430.6 C360.5,433.2 361.3,436.4 361.3,438.5 C361.3,440.6 360.7,442.9 359.8,443.3 C358.9,443.7 357.4,441.8 355.8,440.9 C354.2,440.0 352.1,439.0 350.2,437.7 C348.3,436.4 346.3,434.6 344.7,432.9 C343.1,431.2 341.7,429.4 340.7,427.4 C339.7,425.4 339.1,423.1 338.7,421.0 C338.3,418.9 338.2,416.4 338.3,414.7 C338.4,413.0 338.3,411.7 339.1,410.7Z" fill="#081d58" stroke="#fff" stroke-width="1.7" stroke-linejoin="round"/>
<path d="M124.5,119.0 L122.5,126.0 L123.8,133.5 L127.5,142.0 L122.5,148.5 L117.5,154.8 L125.0,161.0 L131.0,167.0 L128.8,176.0 L131.0,184.8 L130.0,196.0 L136.2,199.8 L133.8,204.8 L140.0,211.0 L142.5,217.2 L146.2,226.0 L150.0,232.2 L159.0,231.0 L166.5,223.5 L174.0,226.0 L184.0,229.8 L191.5,231.0 L194.0,238.5 L204.0,241.0 L219.0,238.5 L220.2,246.0 L226.5,253.5 L232.8,248.5 L240.2,256.0 L241.5,261.0 L251.5,271.0 L269.0,269.8 L271.5,274.8 L284.0,273.5 L285.2,266.0 L294.0,266.0 L296.5,259.8 L306.5,261.0 L318.0,258.5 L328.0,254.8 L338.0,251.0 L343.0,242.2 L343.0,233.5" fill="none" stroke="#b4b4b4" stroke-width="1.1" stroke-linejoin="round"/>
<path d="M51.2,233.5 L51.2,227.2 L62.5,224.8 L66.2,218.5 L73.8,217.2 L73.8,223.5" fill="none" stroke="#b4b4b4" stroke-width="1.1" stroke-linejoin="round"/>
<path d="M97.5,226.0 L105.0,227.2 L113.8,228.5 L117.5,234.8 L120.0,236.0" fill="none" stroke="#b4b4b4" stroke-width="1.1" stroke-linejoin="round"/>
<path d="M247.8,121.0 L250.0,130.0 L250.5,135.0" fill="none" stroke="#b4b4b4" stroke-width="1.1" stroke-linejoin="round"/>
<path d="M227.8,186.0 L226.5,193.5 L219.0,198.5" fill="none" stroke="#b4b4b4" stroke-width="1.1" stroke-linejoin="round"/>
<path d="M191.5,231.0 L196.5,223.5 L209.0,221.0 L216.5,216.0 L215.2,209.8" fill="none" stroke="#b4b4b4" stroke-width="1.1" stroke-linejoin="round"/>
<path d="M219.0,238.5 L226.5,233.5 L236.5,237.2 L245.2,234.8 L254.0,233.5 L269.0,227.2 L274.0,231.0 L284.0,232.2 L291.5,226.0 L294.0,221.0 L304.0,217.2 L318.0,218.5 L328.0,228.5 L338.0,227.2 L344.2,229.8 L348.0,236.0 L358.0,239.8 L364.2,236.0 L378.0,233.5 L393.0,229.8" fill="none" stroke="#b4b4b4" stroke-width="1.1" stroke-linejoin="round"/>
<path d="M240.2,213.5 L246.5,201.0 L252.8,197.2 L261.5,196.0 L266.5,206.0 L270.2,218.5 L269.0,223.5" fill="none" stroke="#b4b4b4" stroke-width="1.1" stroke-linejoin="round"/>
<path d="M240.2,213.5 L247.8,217.2" fill="none" stroke="#b4b4b4" stroke-width="1.1" stroke-linejoin="round"/>
<path d="M226.5,186.0 L229.0,178.8 L235.2,172.5 L240.2,168.8 L245.2,167.5 L251.5,170.0 L257.8,168.8 L261.5,175.0 L269.0,176.2 L276.5,175.0" fill="none" stroke="#b4b4b4" stroke-width="1.1" stroke-linejoin="round"/>
<path d="M276.5,175.0 L289.0,173.8 L299.0,175.0 L309.0,170.0 L318.0,171.2 L328.0,168.8 L335.5,167.5 L340.5,165.0 L343.0,160.0 L350.5,156.2 L358.0,152.5 L366.8,150.0 L370.5,146.2 L376.8,142.5 L376.8,133.8 L371.8,127.5 L371.8,120.0" fill="none" stroke="#b4b4b4" stroke-width="1.1" stroke-linejoin="round"/>
<path d="M340.5,165.0 L345.5,170.0 L353.0,166.2 L359.2,166.2 L363.0,170.0 L358.0,173.8 L355.5,177.5 L351.8,182.5 L350.5,192.2 L364.2,196.0 L363.0,206.0 L358.0,213.5 L359.2,221.0 L355.5,229.8 L356.8,237.2" fill="none" stroke="#b4b4b4" stroke-width="1.1" stroke-linejoin="round"/>
<path d="M284.0,273.5 L287.8,286.0 L286.5,296.0 L289.0,303.5 L286.2,308.8 L285.0,317.5 L275.0,318.8 L267.5,322.5 L261.2,325.0 L257.5,330.0 L247.5,332.5 L253.8,337.5 L260.0,340.0 L258.8,350.0 L257.5,357.5 L260.0,365.0 L261.2,375.0 L262.5,385.0 L263.8,392.5 L266.2,398.8" fill="none" stroke="#b4b4b4" stroke-width="1.1" stroke-linejoin="round"/>
<path d="M338.0,251.0 L343.0,263.5 L350.5,274.8 L360.5,282.2 L368.0,289.8 L374.2,296.0 L371.8,301.0 L380.5,308.5 L390.0,307.1 L393.8,306.4 L396.3,302.6 L397.6,298.8 L401.4,297.5 L406.5,298.8 L411.0,300.7" fill="none" stroke="#b4b4b4" stroke-width="1.1" stroke-linejoin="round"/>
<path d="M390.0,329.3 L383.0,332.0 L371.8,340.8 L378.0,349.5 L379.2,359.5 L373.0,365.8 L350.5,365.8 L349.2,374.5 L340.5,380.8 L341.8,389.5 L350.5,394.5 L356.8,404.5 L348.0,414.5 L340.5,424.5" fill="none" stroke="#b4b4b4" stroke-width="1.1" stroke-linejoin="round"/>
<path d="M436.8,228.3 L444.4,228.3 L448.9,230.2 L450.8,234.7 L454.6,236.0 L459.7,236.6 L464.1,232.8 L462.9,229.0 L459.7,227.1" fill="none" stroke="#b4b4b4" stroke-width="1.1" stroke-linejoin="round"/>
<path d="M393.0,229.8 L400.0,234.7 L405.1,231.5 L407.6,232.8 L412.7,229.0 L416.5,225.8 L425.4,222.6 L430.5,218.8 L431.7,215.6" fill="none" stroke="#b4b4b4" stroke-width="1.1" stroke-linejoin="round"/>
<path d="M411.0,300.7 L415.4,305.2 L421.1,303.9 L425.6,307.7 L431.9,310.9 L437.6,312.1 L438.9,317.9 L436.3,320.4 L437.6,323.6 L442.1,325.5 L440.8,331.8 L443.3,333.1 L449.7,332.5 L456.0,330.6 L460.5,328.7 L457.3,325.5 L459.2,320.4 L457.3,316.0 L461.1,315.3 L470.0,317.0 L474.4,318.9 L478.3,323.3 L478.9,334.4 L477.8,340.0 L481.1,345.5 L482.0,352.0" fill="none" stroke="#b4b4b4" stroke-width="1.1" stroke-linejoin="round"/>
<path d="M390.0,329.3 L393.8,326.7 L396.3,322.3 L393.8,319.1 L396.3,315.3 L395.1,311.5 L393.8,307.1" fill="none" stroke="#b4b4b4" stroke-width="1.1" stroke-linejoin="round"/>
<path d="M33.3,143.5 L37.6,146.7 L44.8,148.6 L48.6,153.3 L51.9,156.7 L50.5,160.0 L51.9,163.8 L52.4,168.6 L50.5,173.3 L46.7,179.0 L43.8,183.8 L36.2,185.7 L25.7,187.6 L19.5,193.5" fill="none" stroke="#0000ff" stroke-width="1.1" stroke-linejoin="round"/>
<path d="M91.2,219.8 L102.5,214.8 L112.5,206.0 L120.0,198.5 L130.0,192.0 L134.8,184.1 L141.1,179.4 L150.6,176.2 L153.0,169.8 L157.8,167.5 L161.7,165.1 L165.7,166.7 L169.7,163.5 L172.1,165.9 L177.6,165.9 L178.4,173.8 L184.0,177.0 L191.9,173.8 L198.3,172.2 L202.2,173.8 L203.0,170.6 L206.2,174.6 L211.7,173.0 L213.3,166.7 L217.3,165.1" fill="none" stroke="#0000ff" stroke-width="1.1" stroke-linejoin="round"/>
<path d="M165.7,166.7 L169.7,172.2 L172.1,173.0 L178.4,173.8" fill="none" stroke="#0000ff" stroke-width="1.1" stroke-linejoin="round"/>
<path d="M172.1,165.9 L172.1,173.0" fill="none" stroke="#0000ff" stroke-width="1.1" stroke-linejoin="round"/>
<path d="M239.0,101.2 L244.0,108.8 L247.8,120.0 L252.8,123.8 L260.2,126.2 L257.8,131.2 L252.8,135.0 L250.2,142.5 L249.0,148.8 L241.5,150.0 L234.0,152.5 L230.2,156.2 L232.8,162.5 L231.5,167.5 L225.2,163.5 L220.5,166.7 L217.3,165.1 L215.7,173.8 L211.7,184.1 L215.7,194.4 L218.1,200.0 L214.1,208.7 L206.2,214.3 L196.7,219.0 L190.3,224.6 L187.1,230.0 L186.5,234.8 L182.8,242.2 L177.8,251.0 L175.2,256.0 L166.5,258.0 L159.0,259.8 L147.5,262.2 L142.5,266.0" fill="none" stroke="#0000ff" stroke-width="1.1" stroke-linejoin="round"/>
<path d="M175.2,256.0 L184.0,261.0 L196.5,267.2 L191.5,273.5 L189.0,279.0" fill="none" stroke="#0000ff" stroke-width="1.1" stroke-linejoin="round"/>
<path d="M172.1,173.0 L168.1,177.8 L163.3,183.3 L159.4,187.3 L161.0,192.9 L164.1,196.0 L158.6,200.8 L155.4,206.3 L150.6,211.9 L142.7,218.3 L135.0,223.5 L127.5,231.0 L121.2,236.0 L118.8,243.5 L120.0,251.0 L125.0,258.5 L130.0,264.8 L130.0,273.5 L128.8,279.8" fill="none" stroke="#0000ff" stroke-width="1.1" stroke-linejoin="round"/>
<path d="M249.0,148.8 L250.2,153.8 L259.0,158.8 L265.2,163.8 L269.0,167.5 L276.5,175.0 L289.0,177.5 L299.0,180.0 L301.5,186.0 L302.8,196.0 L299.0,204.8 L294.0,211.0 L292.8,221.0 L295.2,228.5 L290.2,236.0 L285.2,246.0 L279.0,254.8 L271.5,259.0 L265.2,261.0 L262.8,266.0" fill="none" stroke="#0000ff" stroke-width="1.1" stroke-linejoin="round"/>
<path d="M265.2,163.8 L266.5,172.5 L271.5,178.8 L269.0,186.0 L266.5,186.0 L261.5,196.0 L255.2,208.5 L247.8,218.5 L246.5,224.8 L239.0,233.5 L232.8,241.0 L224.0,247.2 L216.5,252.2 L212.8,258.5 L215.2,266.0 L222.8,273.0" fill="none" stroke="#0000ff" stroke-width="1.1" stroke-linejoin="round"/>
<path d="M223.8,322.5 L231.2,320.0 L240.0,315.0 L250.0,310.0 L257.5,303.8 L265.0,301.2 L271.5,303.5 L281.5,297.2 L289.0,296.0 L293.5,292.2 L298.7,293.1 L307.5,294.8 L314.4,292.2 L321.4,288.7 L323.2,291.3 L330.2,287.9 L337.1,286.1 L342.4,287.9 L347.6,283.5 L354.6,281.7 L360.0,280.5 L365.1,277.3 L370.2,276.0 L372.7,277.3 L376.5,274.1 L382.9,274.1 L387.3,269.0 L394.3,265.2 L401.9,262.7 L407.0,260.8 L410.8,257.0 L414.6,258.3 L419.7,257.6" fill="none" stroke="#0000ff" stroke-width="1.1" stroke-linejoin="round"/>
<path d="M323.2,291.3 L322.3,297.5 L324.9,304.4 L323.2,313.2 L324.9,320.2 L327.5,327.1 L329.3,334.1 L330.2,338.5 L327.5,340.2 L321.4,342.9 L317.9,345.5 L317.9,351.6 L318.0,354.5" fill="none" stroke="#0000ff" stroke-width="1.1" stroke-linejoin="round"/>
<path d="M433.0,210.0 L433.7,215.0 L434.3,221.3 L434.9,227.7 L434.3,234.0 L431.7,240.4 L427.3,248.0 L423.5,250.0 L419.7,253.8 L423.5,257.6 L422.2,264.0 L419.7,267.8 L415.9,272.9 L419.7,276.7 L422.2,281.1 L419.7,286.8 L417.1,291.9 L414.1,295.0 L411.0,298.8 L413.5,302.6 L414.1,306.4 L410.3,309.0 L409.0,313.4 L406.5,310.2 L402.7,312.8 L400.2,316.0 L396.3,317.9 L393.8,320.4 L393.2,323.6 L395.7,325.5 L398.9,326.7 L402.7,331.8 L407.8,335.6 L411.6,338.8 L413.5,343.3 L415.4,347.7 L421.7,350.9 L427.5,353.4 L430.6,357.2 L433.0,360.8 L423.0,368.2 L413.0,373.2 L409.2,382.0 L406.8,392.0 L405.5,402.0 L399.2,404.5" fill="none" stroke="#0000ff" stroke-width="1.1" stroke-linejoin="round"/>
<path d="M433.0,360.8 L440.0,360.0 L448.0,359.5 L452.2,358.5 L458.6,356.0 L464.9,352.1 L470.0,350.2 L477.0,347.0" fill="none" stroke="#0000ff" stroke-width="1.1" stroke-linejoin="round"/>
<path d="M330.2,338.5 L335.4,342.0 L340.6,346.4 L345.9,349.8 L351.1,353.3 L358.1,356.8 L363.3,360.3 L369.2,364.5 L363.0,372.0 L359.2,382.0 L364.2,392.0 L375.5,400.8 L384.2,407.0" fill="none" stroke="#0000ff" stroke-width="1.1" stroke-linejoin="round"/>
<path d="M359.2,248.5 L368.0,243.5 L378.0,236.0 L390.5,232.2 L400.0,227.7 L403.8,223.9 L408.9,222.6 L412.7,226.4 L417.8,228.3 L424.1,227.1 L430.5,222.6 L433.7,216.3" fill="none" stroke="#0000ff" stroke-width="1.1" stroke-linejoin="round"/>
<path d="M323.0,415.5 L327.2,413.9 L328.8,417.1 L332.8,417.9 L336.7,420.2 L339.1,424.2 L342.3,427.4 L345.5,426.6 L347.9,429.8 L351.0,432.1 L354.2,434.5 L357.4,430.6 L359.8,434.5 L362.9,430.6 L366.1,432.1 L368.5,429.0 L370.9,431.3 L373.3,436.9 L375.6,438.5 L377.2,443.3 L378.8,449.6 L382.8,448.0 L384.4,444.0 L387.5,443.3 L390.7,447.2 L393.9,450.4 L400.2,452.8 L405.0,451.2 L409.9,454.4 L416.5,453.3 L421.9,457.7 L427.4,461.0 L431.8,457.7 L438.3,454.4 L444.9,453.3 L450.3,455.5" fill="none" stroke="#0000ff" stroke-width="1.1" stroke-linejoin="round"/>
</g>
<path d="M10.5,157.0 L33.8,144.0 L60.0,127.0 L82.5,111.2 L95.0,105.0 L95.0,99.5 L101.2,98.8 L102.5,102.5 L122.5,97.5 L123.8,105.0 L121.2,110.0 L124.5,118.8 L130.0,123.8 L141.2,122.5 L142.0,115.0 L150.0,112.5 L159.0,113.8 L170.2,117.5 L177.8,120.0 L179.0,130.0 L190.2,131.2 L192.8,128.8 L204.0,126.2 L216.5,121.2 L231.5,110.0 L238.5,101.2 L236.0,97.5 L251.5,96.2 L252.8,98.8 L262.8,98.8 L264.0,93.8 L260.2,85.0 L259.0,80.0 L269.0,75.5 L279.0,73.0 L280.2,83.8 L295.2,85.0 L297.0,80.5 L302.0,76.5 L307.5,69.5 L311.0,68.3 L316.5,70.0 L320.0,73.0 L319.7,78.5 L317.0,83.3 L311.5,83.5 L310.8,86.5 L315.0,87.7 L320.0,86.0 L326.5,87.0 L330.3,91.5 L333.4,88.3 L342.8,78.9 L344.0,72.6 L346.6,72.0 L347.9,75.0 L352.3,75.7 L355.4,83.3 L351.6,91.5 L358.5,100.3 L360.4,108.4 L369.2,106.6 L373.0,111.2 L374.2,118.8 L385.5,118.8 L389.2,116.2 L398.0,118.8 L401.8,113.8 L408.0,111.2 L411.8,112.5 L416.8,120.0 L418.0,127.5 L429.2,133.8 L434.2,136.2 L443.0,135.0 L446.8,136.2 L448.0,141.2 L454.2,140.0 L456.8,145.0 L454.2,150.0 L453.0,156.2 L449.2,158.8 L448.0,162.5 L445.5,167.5 L445.5,173.8 L443.0,177.5 L441.8,182.5 L441.0,186.0 L440.5,192.2 L435.5,196.0 L433.0,201.0 L429.2,204.8 L429.0,210.5 L433.0,215.5 L436.3,219.9 L435.2,226.5 L440.7,225.4 L445.1,223.2 L449.5,226.5 L458.3,225.4 L464.9,227.6 L470.4,226.5 L479.2,227.6 L482.5,233.1 L491.5,235.5 L495.6,241.3 L499.4,247.7 L501.3,252.8 L504.5,254.7 L510.9,254.7 L513.4,255.3 L512.1,259.1 L509.6,261.7 L507.1,264.2 L503.3,268.0 L500.1,270.6 L501.3,275.6 L504.5,278.2 L507.1,282.0 L510.9,281.3 L517.2,281.3 L521.0,283.3 L524.2,284.5 L523.6,289.6 L527.8,291.7 L527.2,296.7 L526.1,302.2 L523.3,307.2 L525.6,310.6 L530.0,313.9 L531.7,317.2 L530.6,319.4 L526.1,320.0 L525.0,322.8 L520.6,320.0 L517.8,321.7 L516.1,325.6 L515.0,328.9 L511.1,331.7 L506.7,333.9 L503.3,336.1 L500.0,339.4 L500.6,343.3 L501.5,347.2 L496.9,350.5 L496.9,357.1 L493.5,359.3 L491.3,354.9 L488.0,351.6 L482.5,353.8 L479.2,349.4 L472.6,352.7 L470.4,358.2 L463.8,363.7 L461.6,371.4 L457.2,376.9 L457.2,382.4 L454.0,387.5 L452.5,394.4 L447.1,397.6 L446.0,403.1 L441.6,409.7 L444.9,414.0 L446.0,418.4 L441.6,422.8 L442.7,430.4 L448.1,432.6 L452.5,439.1 L454.7,444.6 L460.2,447.9 L459.1,453.3 L464.5,459.9 L462.3,465.3 L459.1,469.7 L459.1,476.2 L455.8,481.7 L451.4,482.8 L448.1,480.6 L444.9,483.9 L440.5,485.0 L436.1,482.8 L429.6,485.0 L424.1,487.2 L421.9,491.5 L415.4,489.3 L408.8,492.6 L404.5,494.8 L403.4,488.3 L401.2,481.7 L399.0,476.2 L394.7,471.9 L388.1,467.5 L383.7,469.7 L384.8,464.2 L382.6,459.9 L379.6,455.0 L378.0,453.6 L371.7,453.6 L363.7,452.8 L359.8,449.6 L359.0,444.8 L355.8,440.1 L350.2,437.7 L344.7,432.9 L340.7,429.0 L338.3,429.8 L334.4,431.3 L328.8,432.1 L322.5,432.1 L323.3,429.8 L325.6,425.8 L324.0,421.0 L320.9,417.1 L323.3,415.5 L324.8,411.5 L325.6,406.7 L322.5,402.0 L320.9,398.0 L315.3,396.4 L313.8,393.0 L316.5,389.0 L318.0,384.3 L319.2,379.5 L318.6,374.8 L319.8,370.6 L322.1,367.6 L324.5,368.8 L325.1,362.3 L327.5,359.3 L325.7,356.3 L321.0,355.7 L318.0,353.9 L315.6,356.3 L310.2,359.3 L309.0,362.9 L305.5,366.4 L301.3,370.0 L298.9,374.8 L300.7,379.5 L299.5,384.3 L298.9,389.0 L295.0,391.2 L285.0,393.8 L277.5,397.5 L266.2,400.0 L255.0,397.5 L247.5,396.2 L237.5,396.2 L233.8,395.0 L228.8,392.5 L226.2,385.0 L228.8,378.8 L235.0,375.0 L236.2,368.8 L233.8,361.2 L228.8,360.0 L225.0,357.5 L228.8,350.0 L227.5,343.8 L230.0,340.0 L235.0,336.2 L235.0,331.2 L230.0,327.5 L226.2,332.5 L225.0,327.5 L222.5,323.8 L218.8,321.2 L215.4,319.5 L212.2,314.8 L209.8,311.6 L206.7,314.0 L202.7,314.8 L197.1,316.3 L193.2,317.9 L190.8,316.3 L186.8,314.0 L182.1,314.0 L176.5,313.2 L171.7,314.8 L171.0,319.5 L168.6,322.7 L165.4,320.3 L163.0,316.3 L160.6,310.8 L161.4,306.0 L162.2,299.7 L161.4,293.3 L159.0,288.6 L155.9,283.8 L152.7,283.0 L148.7,281.4 L144.8,282.2 L140.0,283.0 L138.8,277.2 L133.8,277.2 L127.5,281.0 L121.2,282.2 L113.8,278.5 L110.0,273.5 L110.0,261.0 L106.2,256.0 L105.0,248.5 L107.5,242.2 L103.8,237.2 L98.8,233.5 L93.8,222.2 L89.5,219.8 L86.0,222.0 L81.0,222.0 L75.0,224.0 L71.0,227.0 L65.5,229.8 L61.0,236.0 L59.0,240.5 L53.8,237.0 L47.5,236.0 L45.0,231.0 L41.0,224.8 L37.5,222.0 L33.8,215.5 L27.5,214.8 L22.5,214.0 L21.0,209.0 L19.0,206.0 L19.5,198.5 L17.5,193.5 L22.0,191.5 L21.0,186.0 L18.0,182.0 L17.0,176.0 L13.8,173.5 L13.0,166.0Z" fill="none" stroke="#000" stroke-width="1.8" stroke-linejoin="round"/>
<ellipse cx="332.8" cy="81.4" rx="2.5" ry="3.5" transform="rotate(30 332.8 81.4)" fill="#000"/>
<circle cx="326.9" cy="85.2" r="0.9" fill="#000"/>
<path d="M39.3,412.9 L53,412.9 C57,416.5 60,421 61.1,425 C62.3,431 62.3,437 60.2,442.9 C58.5,447 55.5,451.5 53.9,455.4 C53.2,457.5 53,459.5 53,461.6 L39.3,461.6Z" fill="#1c5cf0"/>
<path d="M87.9,416.1 C85.5,417 84,417.8 82.5,418.75 C80.5,420 79,421.7 78,423.2 C76.3,425 75.2,426.8 74.5,428.6 C73.5,431 73.5,433.5 72.7,435.7 C71.8,438 70,440 68.2,442 C66.5,443.8 65,445.5 63.75,447.3 L60.2,452.7 C58.8,454.3 57.9,455.7 57.5,457.1 C57,458.5 56.7,460 56.6,461.6 L87.9,461.6Z" fill="#1c5cf0"/>
<g fill="none" stroke="#1c5cf0" stroke-width="2.3" stroke-linejoin="miter" stroke-miterlimit="3"><path d="M40.5,464.6 V478.2"/><path d="M48,478.2 V465.7 H56 C59.6,465.7 60.6,467.3 60.6,469 C60.6,471 59.3,472.3 56,472.3 H48 M55.2,472.3 L61.2,478.2"/><path d="M68,478.2 V465.2 L77.4,477.2 L86.8,465.2 V478.2"/></g>
<rect x="560.50" y="439.61" width="24.50" height="49.39" fill="#ffffd9"/>
<rect x="560.50" y="390.52" width="24.50" height="49.39" fill="#e8f6b1"/>
<rect x="560.50" y="341.44" width="24.50" height="49.39" fill="#b2e1b6"/>
<rect x="560.50" y="292.35" width="24.50" height="49.39" fill="#64c3bf"/>
<rect x="560.50" y="243.26" width="24.50" height="49.39" fill="#2ca1c2"/>
<rect x="560.50" y="194.18" width="24.50" height="49.39" fill="#216daf"/>
<rect x="560.50" y="145.09" width="24.50" height="49.39" fill="#253a97"/>
<rect x="560.50" y="96.00" width="24.50" height="49.39" fill="#081d58"/>
</svg>
<div class="t" style="left:18px;top:18.6px;font-size:14.7px;font-weight:bold;">Nombre moyen de jours de précipitations par an (10 mm/jour)</div>
<div class="t" style="left:18px;top:39.5px;font-size:14.4px;">Normales 1981 - 2010</div>
<div class="t" style="left:514px;top:61.8px;font-size:14.6px;font-weight:bold;">nombre de jours</div>
<div class="t" style="left:181px;top:467.5px;font-size:11.2px;font-weight:bold;color:#1c5cf0;">www.meteo.be/climatlas</div>
<div class="lab" style="top:88.9px">49</div>
<div class="lab" style="top:138.0px">45</div>
<div class="lab" style="top:187.1px">41</div>
<div class="lab" style="top:236.2px">37</div>
<div class="lab" style="top:285.3px">33</div>
<div class="lab" style="top:334.4px">29</div>
<div class="lab" style="top:383.5px">25</div>
<div class="lab" style="top:432.5px">21</div>
<div class="lab" style="top:481.6px">17</div>

</body></html>
